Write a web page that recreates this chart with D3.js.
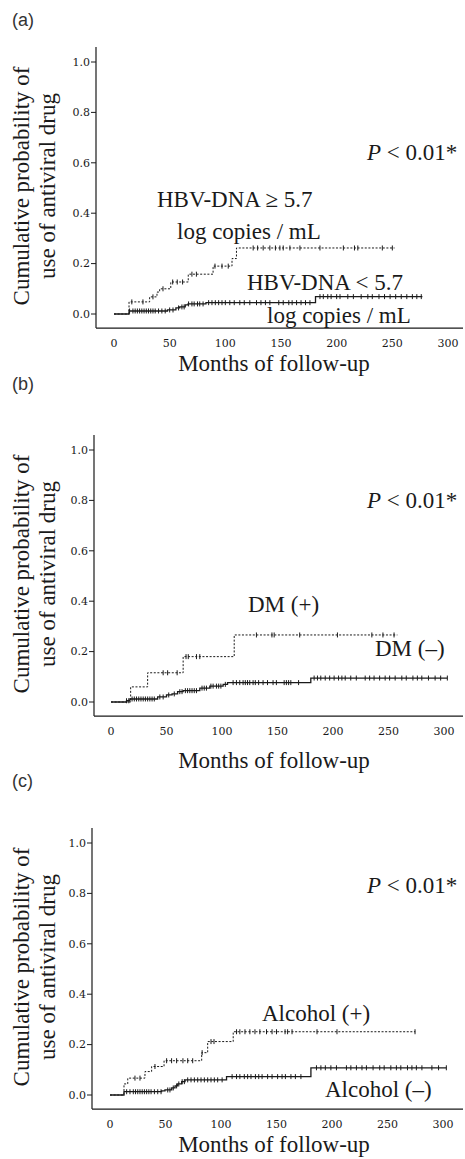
<!DOCTYPE html>
<html>
<head>
<meta charset="utf-8">
<script src="https://cdn.jsdelivr.net/npm/d3@7"></script>
<style>
  body { margin: 0; background: #fff; }
</style>
</head>
<body>
<svg id="chart" width="465" height="1159"></svg>
<script>
// axis ticks
var xTicks = [0, 50, 100, 150, 200, 250, 300];
var yTicks = [0, 0.2, 0.4, 0.6, 0.8, 1.0];

// (a) HBV-DNA >= 5.7 (dotted) and < 5.7 (solid)
var hbvHighTimes = [0, 13.5, 32, 38.6, 41, 51, 66.7, 89, 106, 110];
var hbvHighProb  = [0, 0.048, 0.068, 0.087, 0.1, 0.127, 0.158, 0.19, 0.22, 0.262];
var hbvHighEnd = 252;
var hbvHighCens = [16, 26, 35, 44, 52.7, 56.8, 61.6, 70, 74, 90.7, 97, 102.6, 125, 129, 134, 140, 145, 149, 152, 158, 167, 185, 206, 216, 219, 241, 250];
var hbvLowTimes = [0, 13.5, 48, 55.6, 59, 64, 66.6, 82.6, 181];
var hbvLowProb  = [0, 0.012, 0.016, 0.024, 0.028, 0.036, 0.04, 0.045, 0.069];
var hbvLowEnd = 277;
var hbvLowCens = [14, 17, 19, 21, 23, 25, 27, 29, 31, 33, 35, 37, 40, 43, 46, 50, 53, 58, 61, 63, 67, 70, 72, 75, 77, 80, 85, 88, 91, 94, 97, 100, 104, 108, 113, 117, 122, 128, 132, 136, 140, 148, 152, 157, 160, 164, 168, 172, 176, 185, 188, 192, 195, 200, 203, 210, 215, 222, 228, 232, 238, 243, 248, 253, 258, 263, 268, 272, 276];

// (b) DM (+) dotted, DM (-) solid
var dmPosTimes = [0, 17.7, 33, 65, 111];
var dmPosProb  = [0, 0.06, 0.116, 0.18, 0.266];
var dmPosEnd = 258;
var dmPosCens = [47, 51, 59.6, 67.6, 69.6, 77, 80, 131, 145, 147, 170, 204, 235, 245, 255];
var dmNegTimes = [0, 14, 17, 42, 50, 55, 60, 65, 80, 89, 101, 105, 180];
var dmNegProb  = [0, 0.005, 0.012, 0.02, 0.028, 0.032, 0.041, 0.045, 0.055, 0.063, 0.07, 0.077, 0.095];
var dmNegEnd = 303;
var dmNegCens = [14, 16, 19, 21, 23, 25, 27, 29, 31, 33, 35, 37, 39, 44, 47, 52, 57, 62, 64, 67, 69, 71, 73, 75, 77, 82, 84, 86, 90, 92, 95, 97, 99, 103, 110, 113, 116, 119, 121, 123, 125, 128, 130, 133, 137, 141, 146, 149, 156, 158, 160, 162, 169, 183, 186, 189, 193, 197, 201, 205, 208, 211, 216, 221, 229, 233, 237, 242, 247, 251, 256, 262, 266, 272, 276, 280, 286, 292, 297, 303];

// (c) Alcohol (+) dotted, Alcohol (-) solid
var alcPosTimes = [0, 12.6, 16, 31.5, 37.5, 48.7, 82.6, 88, 111];
var alcPosProb  = [0, 0.044, 0.067, 0.093, 0.113, 0.136, 0.168, 0.212, 0.251];
var alcPosEnd = 275;
var alcPosCens = [22.5, 27, 40.5, 51, 55.5, 60, 65.7, 70, 74.5, 83, 91, 93.7, 114, 117, 121.6, 126, 130.6, 135, 141, 146, 150, 157.7, 160, 164, 186.5, 204.5, 274.8];
var alcNegTimes = [0, 12.6, 46.5, 49.5, 55.6, 58.6, 61, 64.6, 67.6, 105, 181];
var alcNegProb  = [0, 0.013, 0.016, 0.02, 0.028, 0.036, 0.044, 0.053, 0.06, 0.073, 0.108];
var alcNegEnd = 303;
var alcNegCens = [15, 18, 21, 23, 25, 27, 29, 31, 33, 35, 37, 40, 43, 46, 52, 54, 57, 60, 62, 65, 67, 70, 73, 76, 79, 82, 85, 88, 91, 94, 97, 101, 110, 114, 117, 121, 124, 127, 131, 134, 137, 142, 146, 151, 155, 158, 163, 167, 172, 186, 190, 194, 199, 204, 213, 217, 222, 227, 231, 237, 243, 247, 253, 258, 262, 268, 272, 276, 281, 290, 296, 303];

var panels = [
  { label: "(a)", labelY: 26, y0: 314, axisX: 96, xLeft: 114, xRight: 448, monthsBase: 57,
    curves: [
      { t: hbvHighTimes, p: hbvHighProb, end: hbvHighEnd, c: hbvHighCens, dotted: true },
      { t: hbvLowTimes, p: hbvLowProb, end: hbvLowEnd, c: hbvLowCens, dotted: false }
    ],
    notes: [
      { x: 157, y: 207, s: "HBV-DNA \u2265 5.7" },
      { x: 177, y: 239, s: "log copies / mL" },
      { x: 247, y: 290, s: "HBV-DNA < 5.7" },
      { x: 267, y: 323, s: "log copies / mL" }
    ],
    pY: 160 },
  { label: "(b)", labelY: 390, y0: 702, axisX: 94, xLeft: 111, xRight: 444, monthsBase: 66,
    curves: [
      { t: dmPosTimes, p: dmPosProb, end: dmPosEnd, c: dmPosCens, dotted: true },
      { t: dmNegTimes, p: dmNegProb, end: dmNegEnd, c: dmNegCens, dotted: false }
    ],
    notes: [
      { x: 248, y: 612, s: "DM (+)" },
      { x: 375, y: 656, s: "DM (\u2013)" }
    ],
    pY: 508 },
  { label: "(c)", labelY: 787, y0: 1095, axisX: 92, xLeft: 110, xRight: 443, monthsBase: 57,
    curves: [
      { t: alcPosTimes, p: alcPosProb, end: alcPosEnd, c: alcPosCens, dotted: true },
      { t: alcNegTimes, p: alcNegProb, end: alcNegEnd, c: alcNegCens, dotted: false }
    ],
    notes: [
      { x: 262, y: 1021, s: "Alcohol (+)" },
      { x: 325, y: 1097, s: "Alcohol (\u2013)" }
    ],
    pY: 893 }
];

var svg = d3.select("#chart");
var serif = "'Liberation Serif', 'Times New Roman', serif";
var ink = "#1a1a1a";

function stepValue(t, times, probs) {
  var i = d3.bisectRight(times, t) - 1;
  return probs[Math.max(0, i)];
}

panels.forEach(function(pn) {
  var x = d3.scaleLinear().domain([0, 300]).range([pn.xLeft, pn.xRight]);
  var y = d3.scaleLinear().domain([0, 1]).range([pn.y0, pn.y0 - 252]);
  var g = svg.append("g");
  var axisBottom = y(-0.056);

  // panel label
  g.append("text").attr("x", 12).attr("y", pn.labelY)
    .style("font-family", "'Liberation Sans', Arial, sans-serif").style("font-size", "18px")
    .style("fill", "#333").text(pn.label);

  // y axis
  g.append("line").attr("x1", pn.axisX).attr("x2", pn.axisX)
    .attr("y1", y(1.06)).attr("y2", axisBottom).style("stroke", ink).style("stroke-width", 1.2);
  yTicks.forEach(function(v) {
    g.append("line").attr("x1", pn.axisX - 5).attr("x2", pn.axisX)
      .attr("y1", y(v)).attr("y2", y(v)).style("stroke", ink).style("stroke-width", 1);
    g.append("text").attr("x", pn.axisX - 6).attr("y", y(v)).attr("dy", "0.35em")
      .attr("text-anchor", "end").style("font-family", "'DejaVu Serif', serif")
      .style("font-size", "11px").style("fill", ink).text(v.toFixed(1));
  });

  // x axis
  g.append("line").attr("x1", pn.axisX).attr("x2", 463)
    .attr("y1", axisBottom).attr("y2", axisBottom).style("stroke", ink).style("stroke-width", 1.2);
  xTicks.forEach(function(v) {
    g.append("text").attr("x", x(v)).attr("y", axisBottom + 15).attr("dy", "0.35em")
      .attr("text-anchor", "middle").style("font-family", "'DejaVu Serif', serif")
      .style("font-size", "11px").style("fill", ink).text(v);
  });
  g.append("text").attr("x", 274).attr("y", pn.y0 + pn.monthsBase)
    .attr("text-anchor", "middle").style("font-family", serif).style("font-size", "23px")
    .style("fill", ink).text("Months of follow-up");

  // y label, two lines
  var cy = pn.y0 - 128;
  g.append("text").attr("transform", "translate(29," + cy + ") rotate(-90)")
    .attr("text-anchor", "middle").style("font-family", serif).style("font-size", "23px")
    .style("fill", ink).text("Cumulative probability of");
  g.append("text").attr("transform", "translate(55," + cy + ") rotate(-90)")
    .attr("text-anchor", "middle").style("font-family", serif).style("font-size", "23px")
    .style("fill", ink).text("use of antiviral drug");

  // curves
  var line = d3.line().curve(d3.curveStepAfter)
    .x(function(d) { return x(d[0]); }).y(function(d) { return y(d[1]); });
  pn.curves.forEach(function(cv) {
    var pts = cv.t.map(function(t, i) { return [t, cv.p[i]]; });
    pts.push([cv.end, cv.p[cv.p.length - 1]]);
    g.append("path").attr("d", line(pts)).style("fill", "none").style("stroke", ink)
      .style("stroke-width", cv.dotted ? 1 : 1.3)
      .style("stroke-dasharray", cv.dotted ? "2,1.6" : null);
    g.selectAll(null).data(cv.c).enter().append("line")
      .attr("x1", function(d) { return x(d); }).attr("x2", function(d) { return x(d); })
      .attr("y1", function(d) { return y(stepValue(d, cv.t, cv.p)) - 2.5; })
      .attr("y2", function(d) { return y(stepValue(d, cv.t, cv.p)) + 2.5; })
      .style("stroke", ink).style("stroke-width", 1);
  });

  // notes
  pn.notes.forEach(function(n) {
    g.append("text").attr("x", n.x).attr("y", n.y).style("font-family", serif)
      .style("font-size", "23px").style("fill", ink).text(n.s);
  });
  var pt = g.append("text").attr("x", 367).attr("y", pn.pY).style("font-family", serif)
    .style("font-size", "23px").style("fill", ink);
  pt.append("tspan").style("font-style", "italic").text("P");
  pt.append("tspan").text(" < 0.01*");
});
</script>
</body>
</html>
